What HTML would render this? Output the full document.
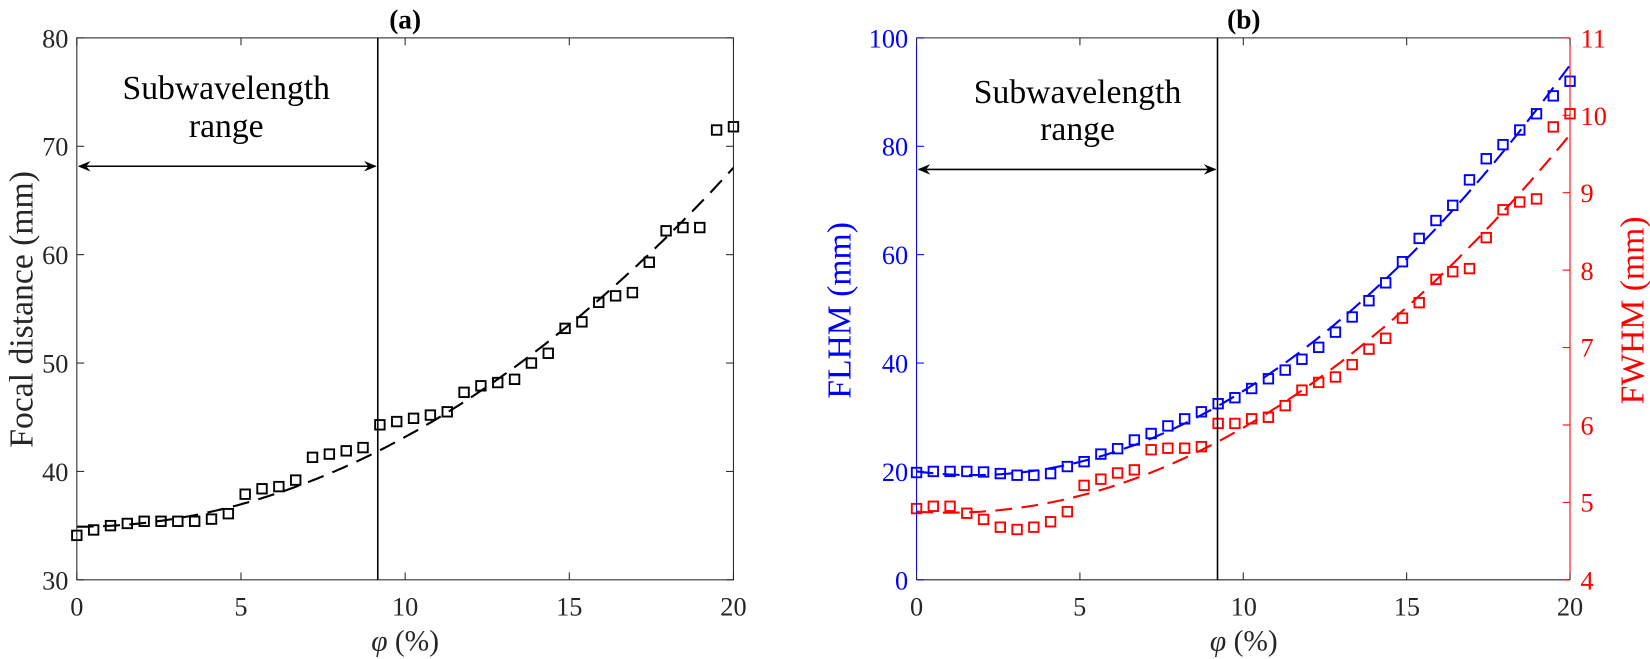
<!DOCTYPE html>
<html><head><meta charset="utf-8"><style>
html,body{margin:0;padding:0;background:#fff;}
svg{display:block;font-family:"Liberation Serif",serif;}
</style></head><body>
<svg width="1650" height="659" viewBox="0 0 1650 659" xmlns="http://www.w3.org/2000/svg">
<defs>
<marker id="ah" viewBox="0 0 12 10" refX="11" refY="5" markerWidth="12" markerHeight="10" markerUnits="userSpaceOnUse" orient="auto-start-reverse">
<path d="M0,0 L12,5 L0,10 L4,5 Z" fill="#000"/></marker>
</defs>
<g transform="scale(1.0523)">
<g id="g"></g>
<!-- panel a text -->
<text x="385" y="27" font-size="26" font-weight="bold" text-anchor="middle">(a)</text>
<g font-size="25" text-anchor="end" fill="#262626">
<text x="65" y="560">30</text><text x="65" y="457">40</text><text x="65" y="354">50</text>
<text x="65" y="251">60</text><text x="65" y="148">70</text><text x="65" y="45">80</text>
</g>
<g font-size="25" text-anchor="middle" fill="#262626">
<text x="73" y="585">0</text><text x="229" y="585">5</text><text x="385" y="585">10</text>
<text x="541" y="585">15</text><text x="697" y="585">20</text>
</g>
<text x="385" y="618" font-size="28" text-anchor="middle" fill="#262626"><tspan font-style="italic">φ</tspan> (%)</text>
<text transform="translate(31,294) rotate(-90)" font-size="32" text-anchor="middle" fill="#262626">Focal distance (mm)</text>
<text x="215" y="94" font-size="32" text-anchor="middle">Subwavelength</text>
<text x="215" y="130" font-size="32" text-anchor="middle">range</text>
<!-- panel b text -->
<text x="1182" y="27" font-size="26" font-weight="bold" text-anchor="middle">(b)</text>
<g font-size="25" text-anchor="end" fill="#0000ff">
<text x="863" y="560">0</text><text x="863" y="457">20</text><text x="863" y="354">40</text>
<text x="863" y="251">60</text><text x="863" y="148">80</text><text x="863" y="45">100</text>
</g>
<g font-size="25" text-anchor="start" fill="#ff0000">
<text x="1502" y="560">4</text><text x="1502" y="486">5</text><text x="1502" y="413">6</text>
<text x="1502" y="339">7</text><text x="1502" y="266">8</text><text x="1502" y="192">9</text>
<text x="1502" y="119">10</text><text x="1502" y="45">11</text>
</g>
<g font-size="25" text-anchor="middle" fill="#262626">
<text x="871" y="585">0</text><text x="1026" y="585">5</text><text x="1182" y="585">10</text>
<text x="1337" y="585">15</text><text x="1492" y="585">20</text>
</g>
<text x="1182" y="618" font-size="28" text-anchor="middle" fill="#262626"><tspan font-style="italic">φ</tspan> (%)</text>
<text transform="translate(808,295) rotate(-90)" font-size="32" text-anchor="middle" fill="#0000ff">FLHM (mm)</text>
<text transform="translate(1562,295) rotate(-90)" font-size="32" text-anchor="middle" fill="#ff0000">FWHM (mm)</text>
<text x="1024" y="98" font-size="32" text-anchor="middle">Subwavelength</text>
<text x="1024" y="133" font-size="32" text-anchor="middle">range</text>
</g>
</svg>
<script>
const NS="http://www.w3.org/2000/svg",g=document.getElementById('g');
function el(t,a){const e=document.createElementNS(NS,t);for(const k in a)e.setAttribute(k,a[k]);g.appendChild(e);return e;}
function line(x1,y1,x2,y2,c,w){el('line',{x1,y1,x2,y2,stroke:c,'stroke-width':w||1});}
const xs=[];for(let i=0;i<40;i++)xs.push(i*20/39);
const A={x0:73,x1:697,y0:551,y1:36};
const ax=p=>A.x0+p*(A.x1-A.x0)/20, ay=v=>A.y0-(v-30)*(A.y0-A.y1)/50;
const ya=[34.1,34.6,35.0,35.2,35.4,35.4,35.4,35.4,35.6,36.1,37.9,38.4,38.6,39.2,41.3,41.6,41.9,42.2,44.3,44.6,44.9,45.2,45.5,47.3,47.9,48.2,48.5,50.0,50.9,53.2,53.8,55.6,56.2,56.5,59.3,62.2,62.5,62.5,71.5,71.8];
function curve(fx,fy,f,c){let d='';for(let i=0;i<=200;i++){const p=i/10;d+=(i?'L':'M')+fx(p).toFixed(1)+','+fy(f(p)).toFixed(1);}el('path',{d,fill:'none',stroke:c,'stroke-width':2,'stroke-dasharray':'16 9'});}
function sq(x,y,c){el('rect',{x:x-4.5,y:y-4.5,width:9,height:9,fill:'none',stroke:c,'stroke-width':1.8});}
curve(ax,ay,p=>34.9+0.0828*p*p,'#000');
xs.forEach((p,i)=>sq(ax(p),ay(ya[i]),'#000'));
el('rect',{x:A.x0,y:A.y1,width:A.x1-A.x0,height:A.y0-A.y1,fill:'none',stroke:'#262626','stroke-width':1});
for(let v=30;v<=80;v+=10){line(A.x0,ay(v),A.x0+7,ay(v),'#262626');line(A.x1,ay(v),A.x1-7,ay(v),'#262626');}
for(let p=0;p<=20;p+=5){line(ax(p),A.y0,ax(p),A.y0-7,'#262626');line(ax(p),A.y1,ax(p),A.y1+7,'#262626');}
line(359,36,359,551,'#000',1.5);
el('line',{x1:75,y1:158,x2:357,y2:158,stroke:'#000','stroke-width':1.5,'marker-start':'url(#ah)','marker-end':'url(#ah)'});
const B={x0:871,x1:1492,y0:551,y1:36};
const bx=p=>B.x0+p*(B.x1-B.x0)/20, by=v=>B.y0-v*(B.y0-B.y1)/100, ry=v=>B.y0-(v-4)*(B.y0-B.y1)/7;
const yb=[19.8,20,20,20,19.9,19.6,19.3,19.3,19.6,20.9,21.8,23.2,24.2,25.8,27,28.4,29.7,31,32.5,33.6,35.3,37.1,38.7,40.7,42.9,45.7,48.5,51.5,54.8,58.7,63,66.3,69.1,73.8,77.7,80.3,83,86,89.3,92];
const yr=[4.92,4.95,4.95,4.86,4.78,4.68,4.65,4.68,4.75,4.88,5.22,5.3,5.38,5.42,5.68,5.7,5.7,5.72,6.02,6.02,6.08,6.1,6.25,6.45,6.55,6.62,6.78,6.98,7.12,7.38,7.58,7.88,7.98,8.02,8.42,8.78,8.88,8.92,9.85,10.02];
curve(bx,by,p=>20-0.78*p+0.2265*p*p,'#0000ff');
curve(bx,ry,p=>4.88-0.0263*p+0.01349*p*p,'#ff0000');
xs.forEach((p,i)=>sq(bx(p),by(yb[i]),'#0000ff'));
xs.forEach((p,i)=>sq(bx(p),ry(yr[i]),'#ff0000'));
line(B.x0,B.y1,B.x1,B.y1,'#262626');line(B.x0,B.y0,B.x1,B.y0,'#262626');
line(B.x0,B.y1,B.x0,B.y0,'#0000ff');line(B.x1,B.y1,B.x1,B.y0,'#ff0000');
for(let v=0;v<=100;v+=20)line(B.x0,by(v),B.x0+7,by(v),'#0000ff');
for(let v=4;v<=11;v++)line(B.x1,ry(v),B.x1-7,ry(v),'#ff0000');
for(let p=0;p<=20;p+=5){line(bx(p),B.y0,bx(p),B.y0-7,'#262626');line(bx(p),B.y1,bx(p),B.y1+7,'#262626');}
line(1157,36,1157,551,'#000',1.5);
el('line',{x1:873,y1:161,x2:1155,y2:161,stroke:'#000','stroke-width':1.5,'marker-start':'url(#ah)','marker-end':'url(#ah)'});
</script>
</body></html>
